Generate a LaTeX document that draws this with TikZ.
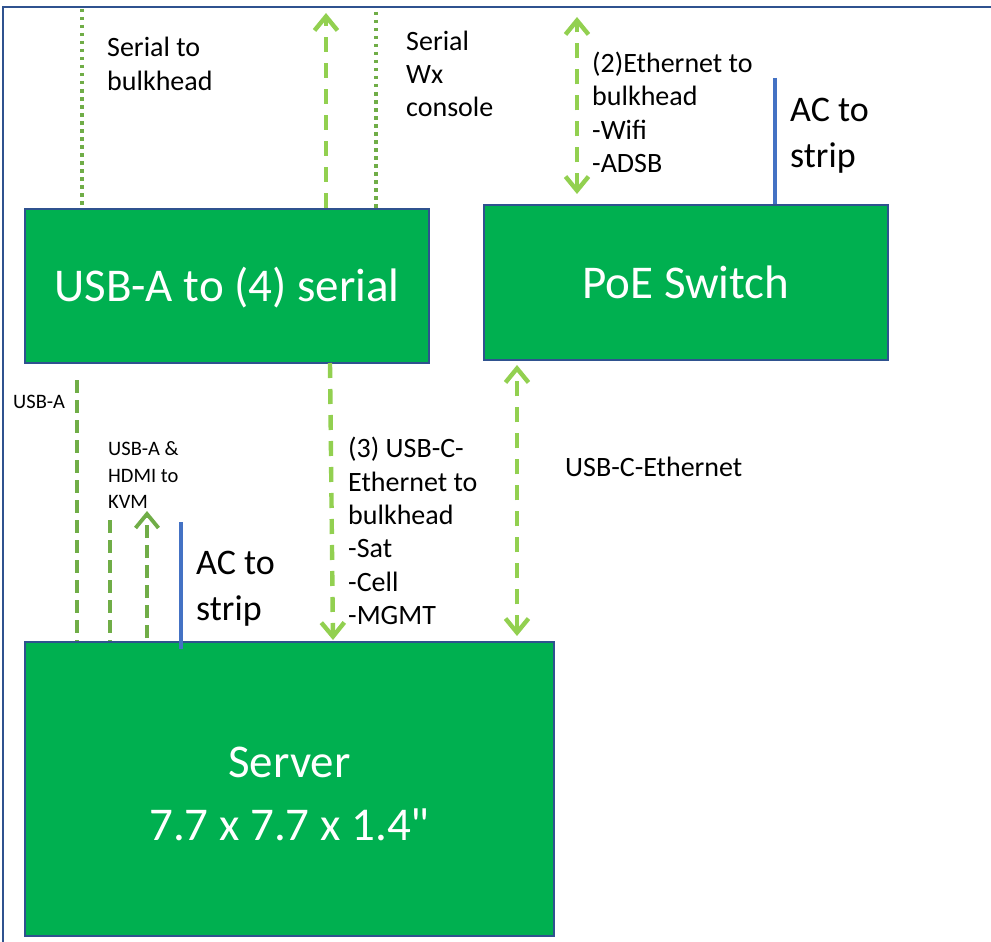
\documentclass[tikz,border=0pt]{standalone}
\usepackage{fontspec}
\setmainfont{Carlito}[Ligatures=TeXOff]
\usetikzlibrary{arrows.meta}
\definecolor{boxfill}{HTML}{00B050}
\definecolor{boxline}{HTML}{2F528F}
\definecolor{dkgreen}{HTML}{70AD47}
\definecolor{ltgreen}{HTML}{92D050}
\definecolor{acblue}{HTML}{4472C4}
\tikzset{
  box/.style={draw=boxline, line width=2.5pt, fill=boxfill, text=white, inner sep=0pt,
    align=center, font=\fontsize{47}{63}\selectfont},
  boxtxt/.style={text=white, inner sep=0pt, align=center, font=\fontsize{47}{63}\selectfont},
  frameln/.style={draw=boxline, line width=2pt},
  dotln/.style={draw=dkgreen, line width=3.8pt, dash pattern=on 3.5pt off 4.5pt},
  dkdash/.style={draw=dkgreen, line width=3.8pt, dash pattern=on 13pt off 7pt},
  ltdash/.style={draw=ltgreen, line width=4.4pt, dash pattern=on 15pt off 11pt},
  barb/.style={arrows={-Straight Barb[length=14pt,width=23pt]}},
  dbarb/.style={arrows={Straight Barb[length=14pt,width=23pt]-Straight Barb[length=14pt,width=23pt]}},
  acln/.style={draw=acblue, line width=3.2pt},
  lbl/.style={anchor=west, inner sep=0pt, align=left, text=black},
  midtxt/.style={lbl, font=\fontsize{28}{33.3}\selectfont},
  bigtxt/.style={lbl, font=\fontsize{36}{46}\selectfont},
  smalltxt/.style={lbl, font=\fontsize{20.5}{26.5}\selectfont},
}
\begin{document}
\begin{tikzpicture}[x=1pt,y=-1pt]
\useasboundingbox (0,0) rectangle (991,942);
\fill[white] (0,0) rectangle (991,942);
% frame
\coordinate (fbl) at (3,946);
\coordinate (ftl) at (3,7);
\coordinate (ftr) at (996,7);
\draw[frameln] (fbl) -- (ftl) -- (ftr);

% boxes
\node[box, minimum width=404pt, minimum height=154pt] (usb) at (227,286) {};
\node[boxtxt] (usbt) at (227,288) {USB-A to (4) serial};
\node[box, minimum width=404pt, minimum height=155pt] (poe) at (686,282.5) {PoE Switch};
\node[box, minimum width=529pt, minimum height=294pt] (srv) at (289.5,789) {};
\node[boxtxt] (srvt) at (289.5,794) {Server\\7.7 x 7.7 x 1.4"};

% top connectors of USB box
\coordinate (s1) at (82,9);
\draw[dotln] (s1) -- (s1 |- usb.north);
\coordinate (s2) at (376,12);
\draw[dotln] (s2) -- (s2 |- usb.north);
\coordinate (wx) at (326,13);
\draw[ltdash, barb] (wx |- usb.north) -- (wx);

% PoE connectors
\coordinate (et1) at (577,17);
\coordinate (et2) at (577,194);
\draw[ltdash, dbarb] (et2) -- (et1);
\coordinate (ac1) at (775,78);
\draw[acln] (ac1) -- (ac1 |- poe.north);

% lower connectors
\coordinate (ua) at (77,380);
\draw[dkdash] (ua) -- (ua |- srv.north);
\coordinate (hd) at (110,520);
\draw[dkdash] (hd) -- (hd |- srv.north);
\coordinate (kvm) at (147,511);
\coordinate (kvmb) at (147,638);
\draw[dkdash, barb] (kvmb) -- (kvm);
\coordinate (ac2) at (181,522);
\coordinate (ac2b) at (181,649);
\draw[acln] (ac2) -- (ac2b);
\coordinate (uc1) at (330,363);
\coordinate (uc2) at (333,640);
\draw[ltdash, barb] (uc1) -- (uc2);
\coordinate (uce1) at (517,365);
\coordinate (uce2) at (517,636);
\draw[ltdash, dbarb] (uce2) -- (uce1);

% labels
\node[midtxt] (l1) at (107,64) {Serial to\\bulkhead};
\node[midtxt] (l2) at (406,74) {Serial\\Wx\\console};
\node[midtxt] (l3) at (592,112.5) {(2)Ethernet to\\bulkhead\\-Wifi\\-ADSB};
\node[bigtxt] (l4) at (790,136) {AC to\\strip};
\node[smalltxt] (l5) at (13,402) {USB-A};
\node[smalltxt] (l6) at (108,475) {USB-A \&\\HDMI to\\KVM};
\node[bigtxt] (l7) at (196,589) {AC to\\strip};
\node[midtxt] (l8) at (348,531) {(3) USB-C-\\Ethernet to\\bulkhead\\-Sat\\-Cell\\-MGMT};
\node[midtxt] (l9) at (565,467) {USB-C-Ethernet};
\end{tikzpicture}
\end{document}
